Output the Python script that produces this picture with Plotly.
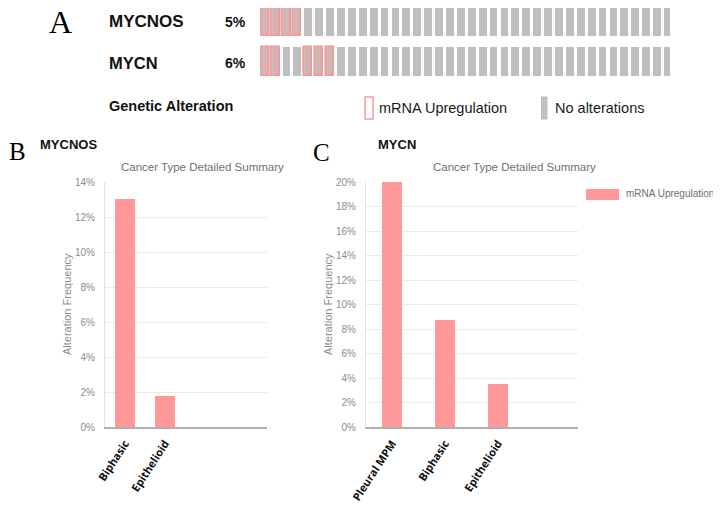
import plotly.graph_objects as go

# ---------------- data ----------------
genes = ["MYCNOS", "MYCN"]
gene_pct = ["5%", "6%"]
n_samples_shown = 38
altered_samples = {
    "MYCNOS": [0, 1, 2, 3],
    "MYCN": [0, 1, 4, 5, 6],
}

b_categories = ["Biphasic", "Epithelioid"]
b_values = [13.04, 1.75]

c_categories = ["Pleural MPM", "Biphasic", "Epithelioid"]
c_values = [20.0, 8.7, 3.51]

b_ticks = [0, 2, 4, 6, 8, 10, 12, 14]
c_ticks = [0, 2, 4, 6, 8, 10, 12, 14, 16, 18, 20]

# ---------------- layout helpers ----------------
W, H = 721, 509
OFF = 8  # page body margin: the figure starts 8px in from the window corner
def fx(x):
    return min(max((x - OFF) / W, 0), 1)
def fy(y):
    return min(max(1 - (y - OFF) / H, 0), 1)

BAR = "#ff9999"
GRAY_CELL = "#bfbfbf"
SANS = "Liberation Sans"
SERIF = "Liberation Serif"

fig = go.Figure()

# ---------------- oncoprint (panel A) ----------------
row_step = 1.379
samples = list(range(n_samples_shown))
for r, g in enumerate(genes):
    fig.add_trace(go.Bar(
        x=samples, y=[1] * len(samples), base=[r * row_step] * len(samples),
        width=0.72, marker=dict(color=GRAY_CELL, line=dict(width=0)),
        xaxis="x3", yaxis="y3", showlegend=False, hoverinfo="skip"))
    alt = altered_samples[g]
    fig.add_trace(go.Bar(
        x=alt, y=[1] * len(alt), base=[r * row_step] * len(alt),
        width=0.76, marker=dict(color="#d4b5b5", line=dict(color="#f29a9a", width=1.6)),
        xaxis="x3", yaxis="y3", showlegend=False, hoverinfo="skip"))

# ---------------- panel B ----------------
fig.add_trace(go.Bar(
    x=b_categories, y=b_values, width=0.5, marker=dict(color=BAR, line=dict(width=0)),
    xaxis="x", yaxis="y", showlegend=False))

# ---------------- panel C ----------------
fig.add_trace(go.Bar(
    x=c_categories, y=c_values, width=0.39, marker=dict(color=BAR, line=dict(width=0)),
    xaxis="x2", yaxis="y2", showlegend=False, name="mRNA Upregulation"))

tickfont_y = dict(family=SANS, size=10, color="#8c8c8c")
tickfont_x = dict(family="Open Sans", size=11, color="#111111", weight="bold")

def yax(domain, rng, ticks, anchor):
    return dict(domain=domain, range=rng, tickvals=ticks,
                ticktext=[f"{t}%" for t in ticks], tickfont=tickfont_y,
                showgrid=True, gridcolor="#ebebeb", gridwidth=1,
                showline=True, linecolor="#e3e3e3", linewidth=1,
                zeroline=False, ticks="", ticklabelstandoff=7,
                anchor=anchor, fixedrange=True, automargin=False)

def xax(domain, rng, anchor):
    return dict(domain=domain, range=rng, type="category", tickangle=-57,
                tickfont=tickfont_x, showgrid=False, zeroline=False,
                showline=True, linecolor="#b0b0b0", linewidth=1.5,
                ticks="", ticklabelstandoff=4, anchor=anchor, fixedrange=True,
                automargin=False)

# oncoprint rows: 0 maps to page y=6.7, (row_step+1) maps to page y=76
onco_top, onco_bot = 6.7, 76.0
px_per_unit = (onco_bot - onco_top) / (row_step + 1)
visible_top = max(0.0, (OFF - onco_top) / px_per_unit)

fig.update_layout(
    width=W, height=H, margin=dict(l=0, r=0, t=0, b=0, autoexpand=False),
    paper_bgcolor="white", plot_bgcolor="white",
    barmode="overlay", bargap=0,
    xaxis=xax([fx(105), fx(267)], [-0.5, 3.55], "y"),
    yaxis=yax([fy(427), fy(182)], [0, 14], b_ticks, "x"),
    xaxis2=xax([fx(366), fx(578)], [-0.49, 3.51], "y2"),
    yaxis2=yax([fy(427), fy(182)], [0, 20], c_ticks, "x2"),
    xaxis3=dict(domain=[fx(260), fx(670)], range=[-0.4266, 37.19], anchor="y3",
                showgrid=False, zeroline=False, showticklabels=False, showline=False,
                automargin=False, fixedrange=True),
    yaxis3=dict(domain=[fy(onco_bot), fy(max(onco_top, OFF))],
                range=[row_step + 1, visible_top], anchor="x3",
                showgrid=False, zeroline=False, showticklabels=False, showline=False,
                automargin=False, fixedrange=True),
    showlegend=False,
)

ann = []
def text(x, y, s, size, color="#111111", family=SANS, weight="normal",
         xanchor="left", angle=0):
    ann.append(dict(x=fx(x), y=fy(y), xref="paper", yref="paper", text=s,
                    showarrow=False, xanchor=xanchor, yanchor="middle",
                    textangle=angle, borderpad=0,
                    font=dict(family=family, size=size, color=color, weight=weight)))

# panel letters
text(48, 22, "A", 32, "#000000", SERIF)
text(8, 151, "B", 25, "#000000", SERIF)
text(312, 152, "C", 25, "#000000", SERIF)

# panel A texts
text(108, 22, genes[0], 17, weight="bold")
text(108, 62.5, genes[1], 16.5, weight="bold")
text(235, 22, gene_pct[0], 14, weight="bold", xanchor="center")
text(235, 63, gene_pct[1], 14, weight="bold", xanchor="center")
text(108, 106, "Genetic Alteration", 14.5, weight="bold")
text(378, 108, "mRNA Upregulation", 14.5, "#1a1a1a")
text(554, 108, "No alterations", 14.5, "#1a1a1a")

# panel B/C headers
text(39, 144, "MYCNOS", 13, weight="bold")
text(377, 144, "MYCN", 13, weight="bold")
text(202, 167, "Cancer Type Detailed Summary", 11.5, "#707070", xanchor="center")
text(514, 167, "Cancer Type Detailed Summary", 11.5, "#707070", xanchor="center")
text(67, 304, "Alteration Frequency", 11, "#8c8c8c", xanchor="center", angle=-90)
text(328, 304, "Alteration Frequency", 11, "#8c8c8c", xanchor="center", angle=-90)
text(625, 193.5, "mRNA Upregulation", 10, "#6e6e6e")

fig.update_layout(annotations=ann)

shapes = [
    dict(type="rect", xref="paper", yref="paper",
         x0=fx(365), x1=fx(373), y0=fy(119), y1=fy(97),
         line=dict(color="#f29a9a", width=1.5), fillcolor="white"),
    dict(type="rect", xref="paper", yref="paper",
         x0=fx(541), x1=fx(547.5), y0=fy(119.5), y1=fy(96.5),
         line=dict(width=0), fillcolor=GRAY_CELL),
    dict(type="rect", xref="paper", yref="paper",
         x0=fx(586), x1=fx(619), y0=fy(200), y1=fy(189),
         line=dict(width=0), fillcolor=BAR),
]
fig.update_layout(shapes=shapes)

fig.write_html("out.html")
